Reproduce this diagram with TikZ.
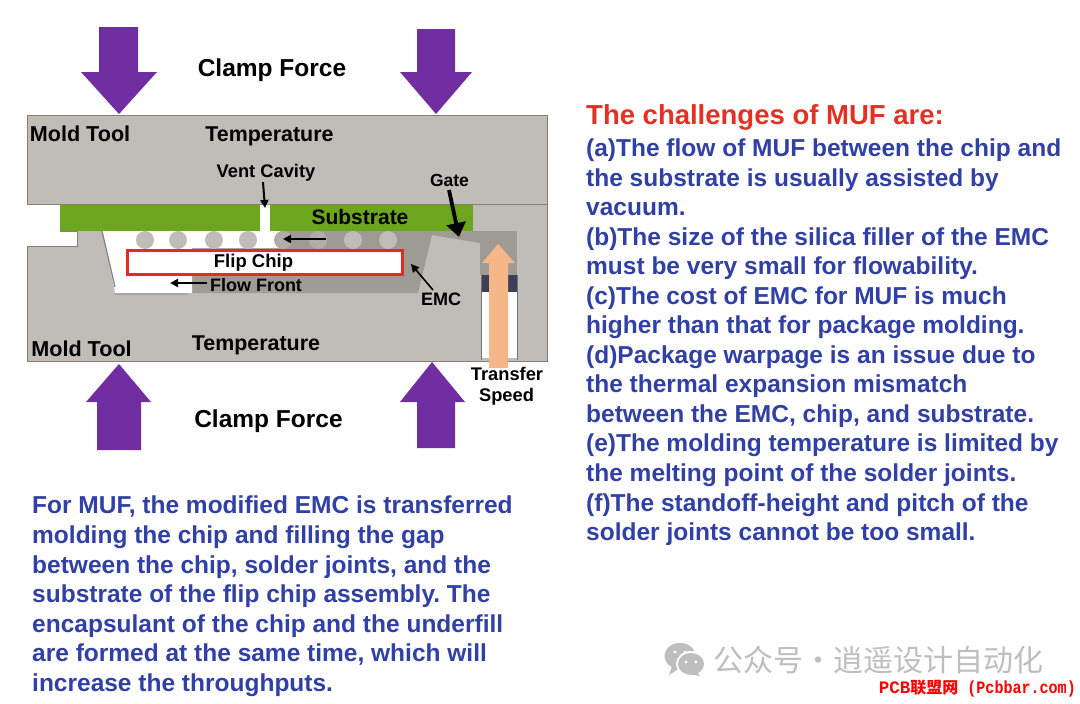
\documentclass[tikz,border=0pt]{standalone}
\usepackage{fontspec}
\setmainfont{Liberation Sans}
\newfontfamily\cjkfont{Noto Sans CJK SC}
\newfontfamily\monofont{Liberation Mono}
\usetikzlibrary{arrows.meta,shapes.arrows}
\definecolor{moldgray}{RGB}{192,188,183}
\definecolor{moldedge}{RGB}{140,125,115}
\definecolor{emcgray}{RGB}{158,155,148}
\definecolor{subgreen}{RGB}{108,166,30}
\definecolor{purplearrow}{RGB}{112,46,160}
\definecolor{peach}{RGB}{245,183,135}
\definecolor{textblue}{RGB}{48,64,165}
\definecolor{titlered}{RGB}{226,50,36}
\definecolor{chipred}{RGB}{226,44,32}
\definecolor{markgray}{RGB}{190,190,190}
\definecolor{potdark}{RGB}{60,62,90}
\frenchspacing
\tikzset{
  lab/.style={font=\bfseries\fontsize{#1}{#1}\selectfont,inner sep=0pt,text=black,align=center},
  para/.style={font=\bfseries\fontsize{24.5}{29.55}\selectfont,text=textblue,inner sep=0pt,align=left,anchor=north west},
  callout/.style={-{Triangle[length=8pt,width=8pt]},line width=2pt,black},
  ball/.style={circle,minimum size=18pt,inner sep=0pt,fill=#1},
  force/.style={fill=purplearrow,draw=none},
}
\begin{document}
\begin{tikzpicture}[x=1pt,y=-1pt]
\useasboundingbox (0,0) rectangle (1080,704);
\fill[white] (0,0) rectangle (1080,704);
% mold
\fill[moldgray,draw=moldedge,line width=1pt] (27,115) -- (547,115) -- (547,361) -- (27,361) -- (27,246) -- (77,246) -- (77,231) -- (60,231) -- (60,204) -- (27,204) -- cycle;
\draw[moldedge,line width=1pt] (60,204) -- (547,204);
% substrate
\fill[subgreen] (60,205) rectangle (473,231);
\fill[white] (260,205) rectangle (270,231);
% cavity: EMC dark part
\fill[emcgray] (190,231) -- (480,231) -- (480,243) -- (432,235) -- (418,293) -- (190,293) -- cycle;
% cavity: white part
\fill[white] (102,231) -- (280,231) -- (280,248) -- (192,248) -- (192,293) -- (115,293) -- (114,287) -- cycle;
\draw[gray,line width=1.2pt] (102,231) -- (115,287);
\draw[gray!70,line width=1.5pt] (115,294) -- (188,294);
% pot
\fill[emcgray] (480,231) rectangle (517,275);
\fill[potdark] (481,275) rectangle (517,292);
\fill[white] (482,292) rectangle (517,358);
\draw[black!55,line width=1pt] (481,275) -- (481,360) (517,275) -- (517,360);
% solder balls
\foreach \i/\x/\c in {a/145/moldgray,b/178/moldgray,c/214/moldgray,d/248/moldgray,e/283/moldgray!92!black,f/318/moldgray!92!black,g/353/moldgray,h/388/moldgray}
  \node[ball=\c] (ball\i) at (\x,240) {};
% chip
\node[draw=chipred,line width=2.8pt,fill=white,minimum width=275pt,minimum height=24pt,inner sep=0pt] (chip) at (265,262.5) {};
\node[lab=18.5] (chiplab) at (253.5,263) {Flip Chip};
% plunger
\fill[peach] (489,368) -- (489,263) -- (482,263) -- (498,244) -- (515,263) -- (508,263) -- (508,368) -- cycle;
% force arrows
\fill[force] (99,27) -- (138,27) -- (138,72) -- (157,72) -- (119,114) -- (81,72) -- (99,72) -- cycle;
\fill[force] (417,29) -- (455,29) -- (455,72) -- (472,72) -- (436,114) -- (400,72) -- (417,72) -- cycle;
\fill[force] (97,450) -- (141,450) -- (141,402) -- (151,402) -- (119,364) -- (86,402) -- (97,402) -- cycle;
\fill[force] (417,448) -- (455,448) -- (455,402) -- (465,402) -- (432,362) -- (400,402) -- (417,402) -- cycle;
% labels
\node[lab=24.5] (clamptop) at (272,70.5) {Clamp Force};
\node[lab=24.5] (clampbot) at (268.5,421.5) {Clamp Force};
\node[lab=21.6] (moldtop) at (80,133.5) {Mold Tool};
\node[lab=21.6] (moldbot) at (81.5,348.5) {Mold Tool};
\node[lab=21.4] (temptop) at (269.5,136.5) {Temperature};
\node[lab=21.4] (tempbot) at (256,345) {Temperature};
\node[lab=18.3] (vent) at (266,172.5) {Vent Cavity};
\node[lab=17.5] (gate) at (449.5,180) {Gate};
\node[lab=21] (substrate) at (360,217) {Substrate};
\node[lab=18] (flow) at (256,285) {Flow Front};
\node[lab=18] (emc) at (441,299) {EMC};
\node[lab=18.3] (transfer) at (507,374) {Transfer};
\node[lab=18.3] (speed) at (506.5,397) {Speed};
% callouts
\coordinate (ventstart) at (263,182);
\coordinate (ventend) at (265,208);
\coordinate (gatestart) at (449,190);
\coordinate (gateend) at (459,237);
\coordinate (ballend) at (283,239);
\coordinate (ballstart) at (326,239);
\coordinate (flowstart) at (207,283);
\coordinate (flowend) at (170,283);
\coordinate (emcstart) at (433,290);
\coordinate (emcend) at (411,264);
\draw[callout] (ventstart) -- (ventend);
\draw[callout,line width=3.8pt,-{Triangle[length=14pt,width=19pt]}] (gatestart) -- (gateend);
\draw[callout] (ballstart) -- (ballend);
\draw[callout] (flowstart) -- (flowend);
\draw[callout,line width=1.6pt] (emcstart) -- (emcend);
% text
\node[para] (left) at (32,496) {For MUF, the modified EMC is transferred\\molding the chip and filling the gap\\between the chip, solder joints, and the\\substrate of the flip chip assembly. The\\encapsulant of the chip and the underfill\\are formed at the same time, which will\\increase the throughputs.};
\node[font=\bfseries\fontsize{27.5}{30}\selectfont,text=titlered,inner sep=0pt,anchor=west] (title) at (586,117) {The challenges of MUF are:};
\node[para] (right) at (586,138.5) {(a)The flow of MUF between the chip and\\the substrate is usually assisted by\\vacuum.\\(b)The size of the silica filler of the EMC\\must be very small for flowability.\\(c)The cost of EMC for MUF is much\\higher than that for package molding.\\(d)Package warpage is an issue due to\\the thermal expansion mismatch\\between the EMC, chip, and substrate.\\(e)The molding temperature is limited by\\the melting point of the solder joints.\\(f)The standoff-height and pitch of the\\solder joints cannot be too small.};
% watermark
\fill[markgray] (680,656) ellipse (15.5pt and 13pt);
\fill[markgray] (672,666) -- (669,675) -- (680,668) -- cycle;
\fill[white] (691,664) ellipse (15pt and 13pt);
\fill[markgray] (691,664) ellipse (13pt and 11pt);
\fill[markgray] (697,672) -- (700,676) -- (690,674) -- cycle;
\foreach \x/\y/\c in {675/652/white,685/652/white,686/662/white,696/662/white}
  \fill[\c] (\x,\y) circle (1.7pt);
\node[font=\cjkfont\fontsize{30}{32}\selectfont,text=markgray,inner sep=0pt,anchor=west] (wm) at (713,660) {公众号·逍遥设计自动化};
\node[font={\monofont\bfseries\fontsize{17.5}{18}\selectfont},text=red,inner sep=0pt,anchor=east] (pcb) at (1076,689) {PCB{\cjkfont\fontsize{16}{18}\selectfont 联盟网}\hspace{9pt}\scalebox{.86}[1]{(Pcbbar.com)}};
\end{tikzpicture}
\end{document}
